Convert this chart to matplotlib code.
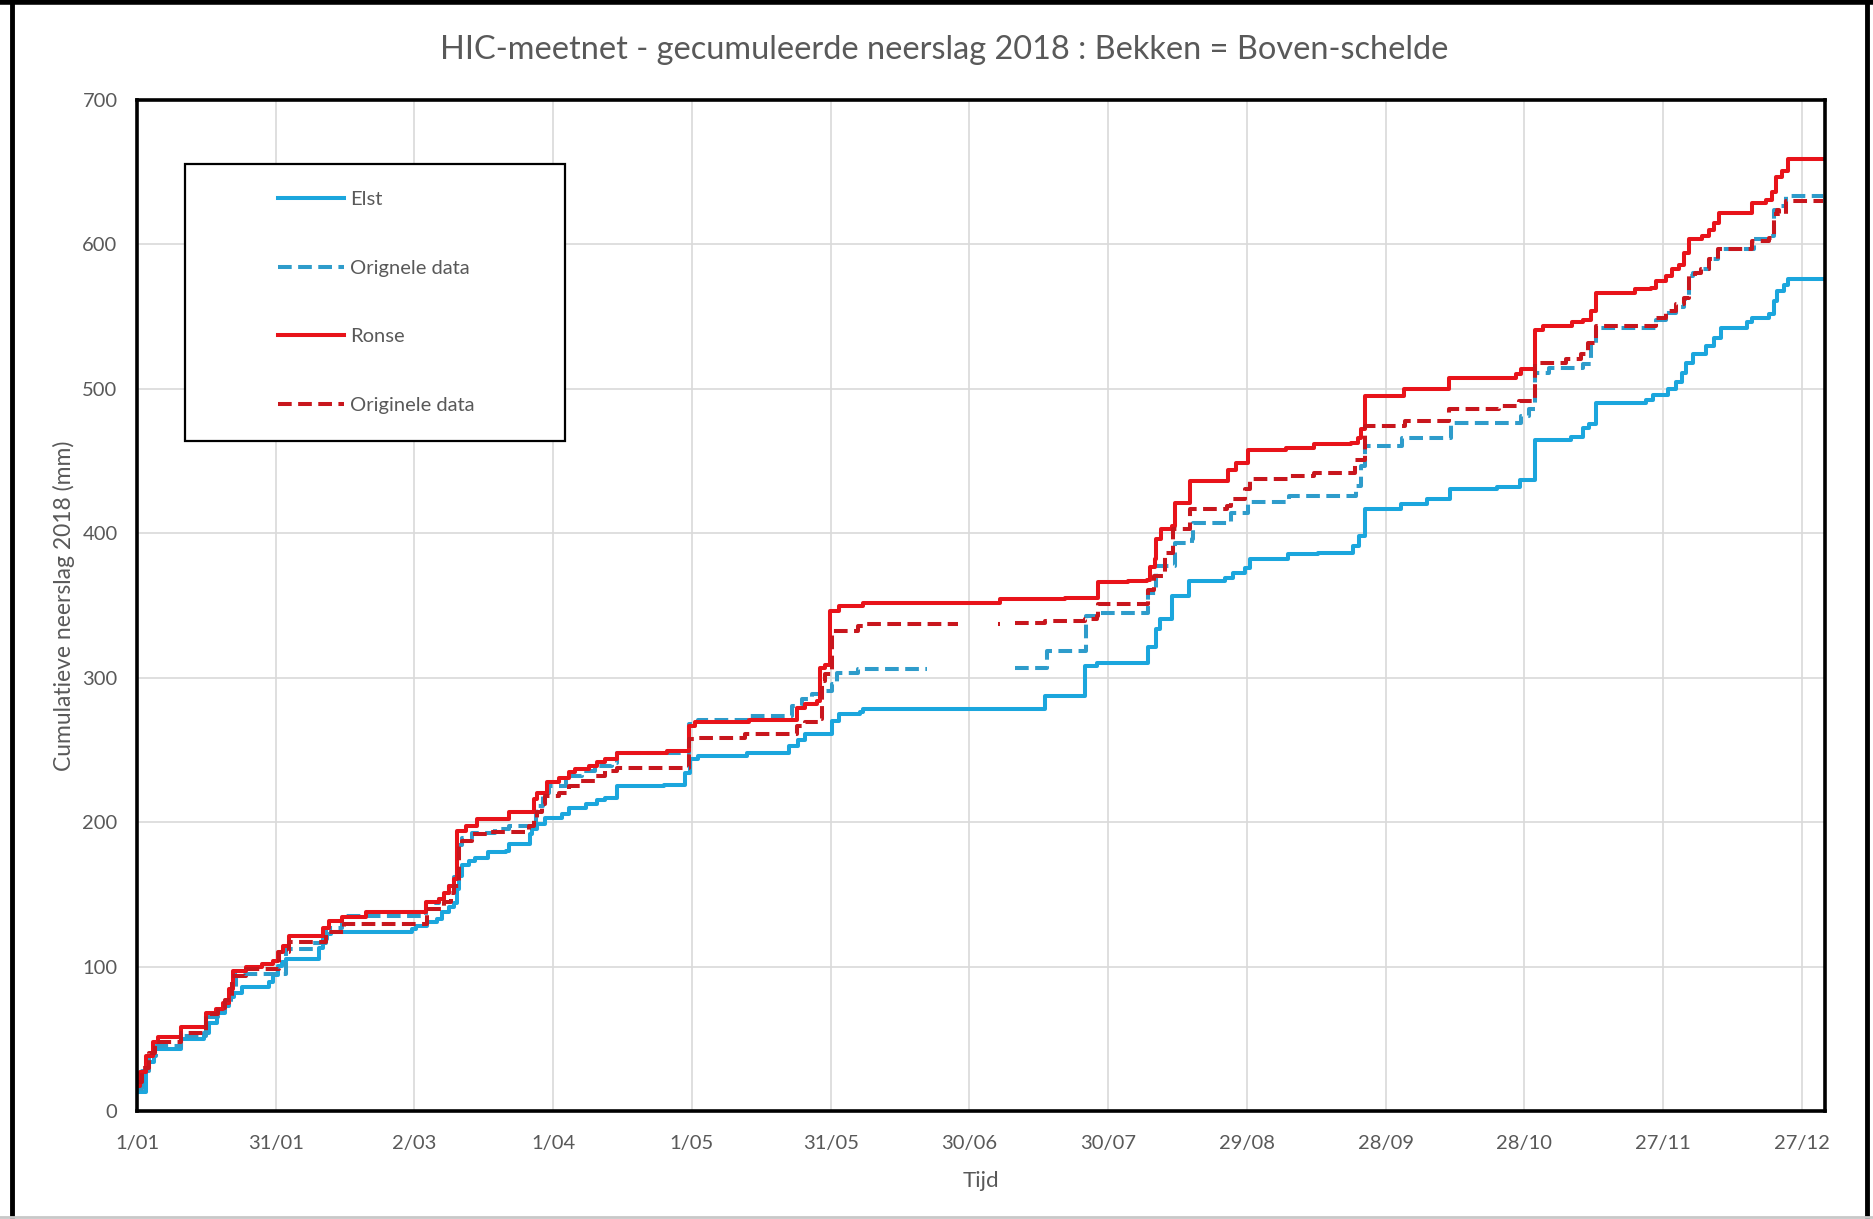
import numpy as np
import matplotlib
matplotlib.use("Agg")
import matplotlib.pyplot as plt
from matplotlib.lines import Line2D
from matplotlib.legend_handler import HandlerLine2D

plt.rcParams['font.family'] = ['Lato', 'DejaVu Sans']

nan = np.nan

# dagen sinds 1 januari 2018 -> cumulatieve neerslag (mm), trapsgewijs
elst_days = [0, 2, 3.7, 9.5, 14.5, 15.6, 17.4, 19, 20, 21, 22.8, 28.6, 29.5, 30.4, 31.4, 32.2,
             39.4, 40.2, 41, 42, 44.8, 59.5, 60.3, 62.8, 64.9, 66, 67.5, 68.5, 69.3, 69.6, 70.3,
             71.7, 73, 76, 79.7, 80.4, 85, 85.4, 86.5, 88.3, 92, 93.5, 97, 99.5, 101.3, 103.8,
             114, 118.5, 119.6, 121.4, 132, 141, 143, 144.5, 150.2, 151.7, 156.3, 157, 196.3,
             205, 207.5, 218.6, 220.4, 221.2, 223.7, 227.4, 235.2, 237, 239.5, 240.6, 248.9,
             255.3, 262.9, 264.3, 265.5, 273.3, 279, 284, 294, 299, 302.2, 310, 312.6, 314,
             315.5, 326.3, 327.7, 331, 332.7, 334, 334.9, 336.4, 339.2, 341, 342.5, 348.2,
             349.3, 352.9, 354, 354.7, 356.2, 356.9, 364.5]
elst_vals = [13, 34, 43, 50, 54, 61, 68, 73, 79, 82, 86, 89, 94, 100.6, 103, 105,
             113, 119, 122.5, 123.6, 124, 126, 128, 130.6, 133, 137.5, 141, 144, 153.6, 163, 170,
             173, 175.5, 179, 180, 184.8, 191.7, 195, 198.6, 203, 205.5, 210, 212.5, 215, 217, 225,
             226, 234, 243.6, 246, 248, 253, 257, 261, 270, 274.7, 276, 278, 287.4,
             308, 310.5, 321, 333.6, 340.5, 356.6, 367, 369, 372.8, 376, 382, 385.5,
             386.6, 391, 398, 416.6, 420, 424, 431, 432, 437, 464.6, 467, 473, 476,
             490, 492, 496, 500, 505, 511, 518, 524, 530, 535, 542, 546,
             549, 552, 561, 568, 572, 576, 576]

elst_orig_days = [0, 1, 2.5, 4.1, 9.5, 14.9, 17.5, 19, 20.3, 21.4, 32.2, 38, 40.8, 44.4, 62.4,
                  65.3, 66.4, 67.5, 68.5, 69.3, 70.3, 72.5, 77.5, 80.4, 86.2, 87.7, 89, 92.7,
                  96.2, 99.1, 102.7, 103.8, 119.3, 121.4, 132.3, 141.6, 143.8, 145.9, 148.8,
                  150.2, 151.3, 156, 170.8, 189.8, 196.7, 205.3, 207.8, 218.6, 220.4, 224.4,
                  228.1, 228.4, 236.6, 240.2, 249.2, 263.6, 264.7, 265.5, 273.6, 284.1, 299.3,
                  301, 302.2, 305.4, 312.6, 314.4, 315.5, 328.4, 330.6, 332.7, 334.6, 335.6,
                  336.4, 337.8, 340, 341.8, 349.7, 352.9, 354, 355, 356.5, 364.5]
elst_orig_vals = [15, 28, 38, 45, 52, 65, 70, 75, 84, 94.8, 112, 116.6, 127, 135, 144,
                  147, 151, 156, 162, 184, 189, 192.5, 195, 197.5, 211, 220.5, 225, 232,
                  235.5, 239, 241, 248, 268, 271, 273.6, 280.5, 285, 288.6, 291,
                  295.5, 303.6, 306, nan, 307, 318.6, 342.8, 345, 359, 377.4, 393.5,
                  396, 407, 414, 422, 425.8, 432.8, 446.6, 460.4, 466, 476.6, 481,
                  485.8, 511, 514.6, 517, 532, 542, 548, 552.7, 557, 562, 578,
                  580, 582.7, 589.6, 596.5, 603.5, 605.8, 624, 626.5, 633.5, 633.5]

ronse_days = [0, 0.7, 2, 3.4, 4.5, 9.5, 14.9, 17, 18.5, 20, 20.7, 23.5, 27.1, 29.3, 30.4, 31.5,
              32.9, 40.2, 41.5, 44.4, 49.5, 62.4, 65.3, 66.4, 67.5, 68.5, 69.3, 71.1, 73.6, 80.4,
              85.8, 86.5, 88.7, 91.2, 93.4, 94.8, 97.7, 99.5, 101.3, 103.8, 114.6, 119.3, 120.7,
              132.3, 142.7, 144.5, 147, 147.7, 148.8, 149.9, 151.7, 157, 186.6, 200.6, 207.8,
              214.3, 218.3, 219, 220.1, 220.4, 221.5, 223.7, 224.4, 227.7, 236, 237.7, 240.2,
              248.5, 254.6, 262.5, 264, 264.7, 265.5, 273.9, 283.8, 298.2, 299.3, 302.2, 304,
              310.4, 312.6, 314.4, 315.5, 324, 327.4, 328.4, 330.6, 332, 333.5, 334.6, 335.6,
              338.5, 340, 341, 342.1, 349.3, 352.2, 353.6, 354.4, 355.8, 356.9, 364.5]
ronse_vals = [17.5, 27, 38, 47.5, 51, 58, 68, 70.6, 75, 84.4, 97, 99.4, 101.7, 104, 109.8, 114.4,
              121.3, 127, 131.7, 134, 137.5, 144.4, 146.7, 151, 156, 160.5, 194, 197.5, 202, 206.7,
              216, 220.5, 227.5, 230.5, 234.4, 236.7, 239, 241.3, 243.6, 248, 249.4, 266.7, 269,
              271, 279, 281.7, 284, 307, 309, 346, 349.7, 352, 354.3, 355.5, 366,
              367, 368, 377, 382, 396, 403, 405, 421, 436, 444, 449, 458,
              459, 461.6, 462.7, 466, 472, 495, 499.7, 507.7, 510, 513.5, 541, 543.5,
              546, 548, 554, 566.6, 569, 570, 574.6, 578, 582.7, 586, 594, 603.5,
              605.8, 610, 615, 622, 629, 631, 636, 647, 651, 659, 659]

ronse_orig_days = [0, 1, 2.5, 4, 9.5, 14.9, 17.5, 19, 20.5, 23.5, 30.7, 32.9, 40.8, 44.8, 62.8,
                   66.4, 67.8, 68.5, 69.6, 70.3, 72.5, 76, 84.7, 85.8, 86.5, 87.5, 88.3, 91.2,
                   93.4, 96, 99, 101.3, 103.8, 119.3, 120.7, 131.5, 142.7, 144.5, 147.7, 148.1,
                   148.8, 150.2, 156, 157.5, 177.6, 186.2, 186.7, 189.8, 196.3, 205, 207.5,
                   207.8, 218.6, 220, 222.2, 224, 227.7, 235.6, 236.6, 239.5, 240.6, 248.9,
                   254.6, 263.3, 265.5, 274.1, 283.8, 294.6, 298.9, 302.2, 309, 312.2, 313.7,
                   315.5, 328.4, 330.6, 332.7, 334.6, 335.6, 336.8, 338.2, 340, 341.8, 349.3,
                   352.9, 354, 354.7, 355.1, 356.5, 364.5]
ronse_orig_vals = [20, 30, 40, 47.5, 54, 67, 71, 77, 93.7, 98, 110, 116.7, 123.6, 129.4, 139.8,
                   144.4, 151, 156, 183.6, 187, 191.7, 193, 197.5, 202, 206.7, 212.5, 218, 220.5,
                   225, 228.6, 232, 235.5, 237.8, 257.4, 258.6, 261, 266.7, 269, 271.3, 297.8,
                   302.4, 332.4, 335.9, 337, nan, 337, nan, 338.2, 339.3, 340.5, 342.8,
                   350.9, 361, 370.5, 386.6, 402.8, 416.6, 419, 423.5, 430.5, 437.4, 439.7,
                   442, 451, 474.3, 477.7, 485.8, 488, 491.6, 518, 520.4, 524, 532,
                   543.5, 549, 553.9, 558.5, 563, 578, 580, 582.7, 589.6, 596.5, 602.3,
                   604.6, 620.8, 624, 621, 630, 630]

tick_days = [0, 30, 60, 90, 120, 150, 180, 210, 240, 270, 300, 330, 360]
tick_labels = ['1/01', '31/01', '2/03', '1/04', '1/05', '31/05', '30/06', '30/07',
               '29/08', '28/09', '28/10', '27/11', '27/12']

grey = '#595959'
fig = plt.figure(figsize=(18.74, 12.19), dpi=100)
ax = fig.add_axes([137/1874, 1 - 1111/1219, 1688/1874, 1011/1219])

lw = 2.9
dash = (3.4, 1.6)
ax.plot(elst_days, elst_vals, drawstyle='steps-post', color='#1BA6DD', lw=lw, label='Elst')
ax.plot(elst_orig_days, elst_orig_vals, drawstyle='steps-post', color='#2E9CCB', lw=lw,
        dashes=dash, label='Orignele data')
ax.plot(ronse_days, ronse_vals, drawstyle='steps-post', color='#E8131A', lw=lw, label='Ronse')
ax.plot(ronse_orig_days, ronse_orig_vals, drawstyle='steps-post', color='#C8161D', lw=lw,
        dashes=dash, label='Originele data')

ax.set_xlim(0, 365)
ax.set_ylim(0, 700)
ax.set_xticks(tick_days)
ax.set_xticklabels(tick_labels)
ax.set_yticks(range(0, 701, 100))
ax.grid(True, color='#D9D9D9', lw=1.2)
ax.set_axisbelow(True)
ax.tick_params(length=0, labelsize=14.5, colors=grey)
ax.tick_params(axis='x', pad=17)
ax.tick_params(axis='y', pad=14)
for s in ax.spines.values():
    s.set_linewidth(2.6)
    s.set_color('black')

ax.set_xlabel('Tijd', fontsize=16, color=grey)
ax.xaxis.set_label_coords(0.5, -0.069)
ax.xaxis.label.set_va('center')
ax.set_ylabel('Cumulatieve neerslag 2018 (mm)', fontsize=16.5, color=grey)
ax.yaxis.set_label_coords(-0.0435, 0.5)
ax.yaxis.label.set_va('center')

fig.text(944/1874, 1 - 50/1219, 'HIC-meetnet - gecumuleerde neerslag 2018 : Bekken = Boven-schelde',
         ha='center', va='center', fontsize=23.4, color=grey)

fs = 14.5
hm = HandlerLine2D(xpad=3.29)
leg = ax.legend(loc='upper left', bbox_to_anchor=(185/1874, 1 - 437/1219, 380/1874, 273/1219),
                bbox_transform=fig.transFigure, mode='expand', fontsize=fs, borderaxespad=0,
                handlelength=6.56, handletextpad=0.3, labelspacing=2.55, borderpad=1.35,
                fancybox=False, framealpha=1, edgecolor='black',
                handler_map={Line2D: hm})
leg.get_frame().set_linewidth(1.6)
for t in leg.get_texts():
    t.set_color(grey)

# rand rond de figuur
fig.add_artist(Line2D([0, 1], [0.998, 0.998], transform=fig.transFigure, color='black', lw=4))
fig.add_artist(Line2D([0.0064, 0.0064], [0, 1], transform=fig.transFigure, color='black', lw=3.5))
fig.add_artist(Line2D([0.9963, 0.9963], [0, 1], transform=fig.transFigure, color='black', lw=3.5))
fig.add_artist(Line2D([0, 1], [0.002, 0.002], transform=fig.transFigure, color='#C8C8C8', lw=2))

fig.savefig('out.png', dpi=100)
